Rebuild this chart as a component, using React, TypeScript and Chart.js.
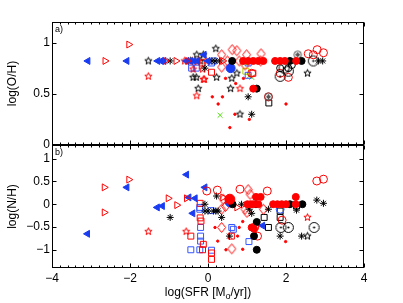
import React, { useEffect, useRef } from 'react';
import { Chart, registerables } from 'chart.js';
Chart.register(...registerables);

type P = [number, number];

// ---------- axes ----------
const xMajorTicks = [-4, -2, 0, 2, 4];
const xTickLabels = ['\u22124', '\u22122', '0', '2', '4'];
const ohTicks = [0, 0.5, 1];
const ohTickLabels = ['0', '0.5', '1'];
const nhTicks = [-1, -0.5, 0, 0.5, 1];
const nhTickLabels = ['\u22121', '\u22120.5', '0', '0.5', '1'];

// ---------- panel a) log(O/H) ----------
const ohBlueTri: P[] = [[-3.08, 0.82], [-2.08, 0.82], [-1.29, 0.82], [-1.2, 0.82], [-1.13, 0.82], [-0.55, 0.82], [-0.45, 0.82], [-0.36, 0.82], [-0.27, 0.82], [-0.1, 0.88], [0.0, 0.82]];
const ohRedTri: P[] = [[-2.64, 0.82], [-2.03, 0.98], [-1.09, 0.82], [-0.82, 0.82], [-0.52, 0.82], [0.38, 0.82]];
const ohBlackStar: P[] = [[-1.53, 0.82], [-0.29, 0.88], [-0.12, 0.88], [-0.38, 0.66], [-0.3, 0.66], [0.22, 0.66], [0.2, 0.94], [-0.25, 0.55], [0.61, 0.65], [0.74, 0.7], [0.58, 0.55], [0.82, 0.3], [2.55, 0.7], [-0.45, 0.82], [-0.2, 0.82]];
const ohRedStar: P[] = [[-1.53, 0.67], [-0.38, 0.74], [-0.14, 0.74], [-0.12, 0.64], [-0.29, 0.48], [-0.09, 0.64], [0.82, 0.55], [-0.6, 0.82], [-0.4, 0.82], [-0.25, 0.82], [-0.05, 0.82]];
const ohBlackAst: P[] = [[-0.97, 0.82], [-0.08, 0.75], [1.03, 0.47], [1.12, 0.3], [2.83, 0.82], [2.94, 0.82], [-0.5, 0.82], [0.1, 0.82], [0.3, 0.82], [0.18, 0.82]];
const ohBlueSq: P[] = [[-0.42, 0.75], [-0.3, 0.75], [0.09, 0.8], [1.03, 0.8], [1.03, 0.68], [0.15, 0.82]];
const ohRedSq: P[] = [[0.09, 0.71], [-0.15, 0.8], [1.15, 0.7]];
const ohBlackSq: P[] = [[1.56, 0.41]];
const ohGreenSq: P[] = [[0.97, 0.72]];
const ohRedDiam: P[] = [[0.35, 0.88], [0.62, 0.93], [0.74, 0.92], [0.99, 0.88], [1.36, 0.89], [0.35, 0.76], [0.5, 0.82], [0.8, 0.82], [0.95, 0.78], [1.35, 0.82]];
const ohRedDot: P[] = [[0.9, 0.82], [1.03, 0.82], [1.16, 0.82], [1.29, 0.82], [1.42, 0.82], [1.72, 0.82], [1.85, 0.82], [1.97, 0.82], [2.26, 0.82], [1.16, 0.55]];
const ohBlackDot: P[] = [[0.62, 0.82], [2.1, 0.82], [2.4, 0.82], [1.25, 0.55]];
const ohBlueDot: P[] = [[0.58, 0.75]];
const ohRedCirc: P[] = [[1.12, 0.7], [2.57, 0.89], [2.7, 0.88], [2.8, 0.93], [2.96, 0.9], [2.06, 0.66], [1.85, 0.7], [1.55, 0.47]];
const ohBlackCirc: P[] = [[1.85, 0.75], [2.06, 0.75], [2.15, 0.78]];
const ohBlackCircDot: P[] = [[2.7, 0.82], [1.85, 0.67], [1.95, 0.75], [2.06, 0.72]];
const ohGreenX: P[] = [[0.86, 0.81], [1.05, 0.67], [0.31, 0.29], [0.95, 0.8], [1.12, 0.66]];
const ohRedSmall: P[] = [[0.45, 0.65], [0.91, 0.65], [0.11, 0.47], [0.37, 0.47], [0.26, 0.4], [0.71, 0.6], [0.69, 0.3], [0.56, 0.17], [1.06, 0.25], [2.0, 0.4]];
const ohGrayCircAst: P[] = [[2.3, 0.88], [1.55, 0.47]];

// ---------- panel b) log(N/H) ----------
const nhBlueTri: P[] = [[-3.09, -0.65], [-2.08, 0.37], [-1.3, -0.07], [-1.17, -0.04], [-0.55, 0.65], [-0.49, 0.15], [-0.33, 0.13], [-0.39, -0.2], [-0.08, 0.37], [1.4, -0.47]];
const nhRedTri: P[] = [[-2.66, 0.37], [-2.66, -0.18], [-2.03, 0.54], [-1.02, 0.13], [-0.8, -0.02], [-0.55, 0.13], [0.38, 0.15], [0.74, -0.07]];
const nhBlackStar: P[] = [[2.55, -0.7]];
const nhRedStar: P[] = [[-1.53, -0.6], [-0.56, -0.6], [2.55, -0.29]];
const nhBlackAst: P[] = [[-0.97, -0.29], [0.22, 0.18], [-0.08, 0.0], [-0.08, -0.15], [0.0, -0.15], [0.14, -0.15], [0.2, -0.15], [0.26, -0.15], [0.35, -0.29], [0.55, -0.7], [0.86, 0.0], [1.06, -0.11], [1.12, -0.2], [1.55, -0.11], [2.27, -0.13], [2.27, 0.0], [1.85, -0.7], [2.4, -0.7], [2.79, 0.09], [2.96, 0.02]];
const nhBlueSq: P[] = [[-0.21, -0.07], [-0.19, -0.51], [-0.19, -0.7], [-0.19, -0.81], [-0.44, -1.0], [-0.21, -1.0], [0.09, -1.01], [0.08, -0.14], [0.61, -0.51], [0.65, -0.55], [1.05, -0.82], [-0.21, -0.11]];
const nhRedSq: P[] = [[-0.18, -0.37], [-0.44, -0.7], [-0.12, -0.88], [0.09, -1.07], [0.09, -1.21], [-0.14, -1.0], [-0.2, -0.3], [0.6, -0.7], [-0.2, 0.02]];
const nhBlackSq: P[] = [[1.44, -0.29], [1.55, -0.51], [1.85, -0.15], [1.85, -0.29], [2.27, -0.04]];
const nhRedDiam: P[] = [[0.39, 0.11], [0.35, -0.11], [0.35, -0.51], [0.61, -0.98], [1.03, 0.32], [1.08, 0.22], [0.95, -0.11], [1.0, -0.18], [1.42, -0.11], [0.45, -0.05]];
const nhRedDot: P[] = [[1.23, 0.16], [1.35, 0.16], [2.25, 0.16], [1.01, 0.0], [1.09, 0.0], [1.16, 0.0], [1.29, 0.0], [1.67, 0.0], [1.78, 0.0], [1.89, 0.0], [2.0, 0.0], [2.25, 0.0], [1.12, -0.51], [1.18, -0.54]];
const nhRedDotBig: P[] = [[0.56, 0.11]];
const nhBlackDot: P[] = [[0.63, 0.0], [1.23, 0.0], [2.1, 0.0], [2.42, 0.0], [1.25, -0.39], [1.18, -0.7], [1.25, -1.0]];
const nhBlueDot: P[] = [[0.56, 0.04]];
const nhRedCirc: P[] = [[-0.03, 0.29], [0.24, 0.31], [0.82, 0.33], [1.52, 0.29], [2.79, 0.51], [2.96, 0.55], [1.9, -0.35], [1.27, -0.7], [1.2, -0.5]];
const nhBlueCirc: P[] = [[1.85, -0.11]];
const nhBlackCircDot: P[] = [[1.87, -0.51], [2.06, -0.51], [2.72, -0.51]];
const nhRedSmall: P[] = [[0.18, -0.51], [0.25, -0.81], [0.46, -1.0], [0.76, -0.7], [0.89, -0.38], [0.89, -0.99], [1.99, -0.82], [0.8, -0.51]];

const FONT = "'Liberation Sans', Arial, sans-serif";
const RED = '#ff0000';
const BLUE = '#1a3cf0';
const BLUE_SQ = '#3355ff';
const GREEN = '#55dd11';

function makeCanvas(w: number, h: number = w) {
  const c = document.createElement('canvas');
  c.width = w; c.height = h;
  return c;
}
function makeStar(color: string, R: number) {
  const s = Math.ceil(R * 2 + 3);
  const c = makeCanvas(s);
  const g = c.getContext('2d')!;
  g.strokeStyle = color; g.lineWidth = 1;
  g.beginPath();
  for (let k = 0; k < 10; k++) {
    const r = k % 2 === 0 ? R : R * 0.42;
    const a = -Math.PI / 2 + (k * Math.PI) / 5;
    const px = s / 2 + r * Math.cos(a), py = s / 2 + r * Math.sin(a);
    if (k === 0) g.moveTo(px, py); else g.lineTo(px, py);
  }
  g.closePath(); g.stroke();
  return c;
}
function makeDiamond(color: string, hw: number, hh: number) {
  const w = Math.ceil(hw * 2 + 3), h = Math.ceil(hh * 2 + 3);
  const c = makeCanvas(w, h);
  const g = c.getContext('2d')!;
  g.strokeStyle = color; g.lineWidth = 1;
  g.beginPath();
  g.moveTo(w / 2, h / 2 - hh);
  g.lineTo(w / 2 + hw, h / 2);
  g.lineTo(w / 2, h / 2 + hh);
  g.lineTo(w / 2 - hw, h / 2);
  g.closePath(); g.stroke();
  return c;
}
function makeCircDot(color: string, R: number) {
  const s = Math.ceil(R * 2 + 3);
  const c = makeCanvas(s);
  const g = c.getContext('2d')!;
  g.strokeStyle = color; g.fillStyle = color; g.lineWidth = 1;
  g.beginPath(); g.arc(s / 2, s / 2, R, 0, Math.PI * 2); g.stroke();
  g.beginPath(); g.arc(s / 2, s / 2, 1.1, 0, Math.PI * 2); g.fill();
  return c;
}
function makeCircAst(color: string, R: number) {
  const s = Math.ceil(R * 2 + 3);
  const c = makeCanvas(s);
  const g = c.getContext('2d')!;
  g.strokeStyle = color; g.lineWidth = 1;
  g.beginPath(); g.arc(s / 2, s / 2, R, 0, Math.PI * 2); g.stroke();
  const r = R * 0.7;
  g.beginPath();
  for (let k = 0; k < 4; k++) {
    const a = (k * Math.PI) / 4;
    g.moveTo(s / 2 - r * Math.cos(a), s / 2 - r * Math.sin(a));
    g.lineTo(s / 2 + r * Math.cos(a), s / 2 + r * Math.sin(a));
  }
  g.stroke();
  return c;
}

const framePlugin = {
  id: 'frame',
  afterDraw(chart: any, _args: any, opts: any) {
    const { ctx, chartArea: a } = chart;
    const xs = chart.scales.x, ys = chart.scales.y;
    ctx.save();
    ctx.strokeStyle = '#000';
    ctx.lineWidth = 1;
    const L = Math.round(a.left) + 0.5, R = Math.round(a.right) - 0.5;
    const T = Math.round(a.top) + 0.5, B = Math.round(a.bottom) - 0.5;
    ctx.beginPath();
    for (let i = -20; i <= 20; i++) {
      const v = i / 5;
      const px = Math.round(xs.getPixelForValue(v)) + 0.5;
      const len = i % 10 === 0 ? 4 : 2;
      ctx.moveTo(px, T); ctx.lineTo(px, T + len);
      ctx.moveTo(px, B); ctx.lineTo(px, B - len);
    }
    for (const v of opts.yTicks as number[]) {
      const py = Math.round(ys.getPixelForValue(v)) + 0.5;
      ctx.moveTo(L, py); ctx.lineTo(L + 4, py);
      ctx.moveTo(R, py); ctx.lineTo(R - 4, py);
    }
    ctx.stroke();
    ctx.strokeRect(L, T, R - L, B - T);
    ctx.fillStyle = '#000';
    ctx.font = `9px ${FONT}`;
    ctx.textAlign = 'left';
    ctx.textBaseline = 'top';
    ctx.fillText(opts.label, a.left + 3, a.top + 3);
    ctx.font = `12px ${FONT}`;
    ctx.textAlign = 'center';
    ctx.textBaseline = 'middle';
    ctx.save();
    ctx.translate(13, (a.top + a.bottom) / 2);
    ctx.rotate(-Math.PI / 2);
    ctx.fillText(opts.yTitle, 0, 0);
    ctx.restore();
    if (opts.xTitle) {
      const parts = ['log(SFR [M', 'o', '/yr])'];
      ctx.font = `12px ${FONT}`;
      const w0 = ctx.measureText(parts[0]).width;
      const w2 = ctx.measureText(parts[2]).width;
      ctx.font = `9px ${FONT}`;
      const w1 = ctx.measureText(parts[1]).width;
      const cx = (a.left + a.right) / 2;
      const y = a.bottom + opts.xTitleOffset;
      let x = cx - (w0 + w1 + w2) / 2;
      ctx.textAlign = 'left';
      ctx.textBaseline = 'alphabetic';
      ctx.font = `12px ${FONT}`;
      ctx.fillText(parts[0], x, y); x += w0;
      ctx.font = `9px ${FONT}`;
      ctx.fillText(parts[1], x, y + 3); x += w1;
      ctx.font = `12px ${FONT}`;
      ctx.fillText(parts[2], x, y);
    }
    ctx.restore();
  },
};

function toXY(d: P[]) {
  return d.map(([x, y]) => ({ x, y }));
}

function buildDatasets(panel: 'oh' | 'nh') {
  const star = (c: string) => makeStar(c, 3.8);
  const diam = makeDiamond(RED, 4, 5);
  const cd = makeCircDot('#000', 5);
  const ca = makeCircAst('#555', 3.8);
  const mk = (data: P[], pointStyle: any, radius: number, border: string, bg: string, rot = 0) => ({
    data: toXY(data),
    pointStyle,
    pointRadius: radius,
    pointRotation: rot,
    borderColor: border,
    backgroundColor: bg,
    borderWidth: 1,
    showLine: false,
  });
  const T = 'rgba(0,0,0,0)';
  let list: any[];
  if (panel === 'oh') {
    list = [
      mk(ohRedSmall, 'circle', 1.2, RED, RED),
      mk(ohGreenX, 'crossRot', 3.5, GREEN, GREEN),
      mk(ohGreenSq, 'rect', 4.2, '#b8d200', T),
      mk(ohBlueSq, 'rect', 4.2, BLUE_SQ, T),
      mk(ohRedSq, 'rect', 4.2, RED, T),
      mk(ohBlackSq, 'rect', 4.2, '#000', T),
      mk(ohRedDiam, diam, 5, RED, T),
      mk(ohBlackStar, star('#000'), 4, '#000', T),
      mk(ohRedStar, star(RED), 4, RED, T),
      mk(ohBlackAst, 'star', 3.5, '#000', T),
      mk(ohBlueTri, 'triangle', 4, BLUE, BLUE, -90),
      mk(ohRedTri, 'triangle', 4, RED, T, 90),
      mk(ohRedCirc, 'circle', 4, RED, T),
      mk(ohBlackCirc, 'circle', 3.5, '#000', T),
      mk(ohBlackCircDot, cd, 5, '#000', T),
      mk(ohGrayCircAst, ca, 4, '#555', T),
      mk(ohBlueDot, 'circle', 4.5, BLUE, BLUE),
      mk(ohBlackDot, 'circle', 3.5, '#000', '#000'),
      mk(ohRedDot, 'circle', 3.5, RED, RED),
    ];
  } else {
    list = [
      mk(nhRedSmall, 'circle', 1.2, RED, RED),
      mk(nhBlueSq, 'rect', 4.2, BLUE_SQ, T),
      mk(nhRedSq, 'rect', 4.2, RED, T),
      mk(nhBlackSq, 'rect', 4.2, '#000', T),
      mk(nhRedDiam, diam, 5, RED, T),
      mk(nhBlackStar, star('#000'), 4, '#000', T),
      mk(nhRedStar, star(RED), 4, RED, T),
      mk(nhBlackAst, 'star', 3.5, '#000', T),
      mk(nhBlueTri, 'triangle', 4, BLUE, BLUE, -90),
      mk(nhRedTri, 'triangle', 4, RED, T, 90),
      mk(nhRedCirc, 'circle', 4, RED, T),
      mk(nhBlueCirc, 'circle', 4, BLUE_SQ, T),
      mk(nhBlackCircDot, cd, 5, '#000', T),
      mk(nhBlueDot, 'circle', 4.5, BLUE, BLUE),
      mk(nhBlackDot, 'circle', 3.5, '#000', '#000'),
      mk(nhRedDot, 'circle', 3.5, RED, RED),
      mk(nhRedDotBig, 'circle', 5, RED, RED),
    ];
  }
  return list.reverse();
}

function makeConfig(panel: 'oh' | 'nh'): any {
  const isTop = panel === 'oh';
  const yTicks = isTop ? ohTicks : nhTicks;
  const yLabels = isTop ? ohTickLabels : nhTickLabels;
  return {
    type: 'scatter',
    data: { datasets: buildDatasets(panel) },
    plugins: [framePlugin],
    options: {
      animation: false,
      responsive: false,
      maintainAspectRatio: false,
      events: [],
      layout: { padding: isTop ? { left: 0, right: 39, top: 22, bottom: 10 } : { left: 0, right: 39, top: 15, bottom: 0 } },
      plugins: {
        legend: { display: false },
        tooltip: { enabled: false },
        frame: { label: isTop ? 'a)' : 'b)', yTitle: isTop ? 'log(O/H)' : 'log(N/H)', yTicks, xTitle: !isTop, xTitleOffset: 28 },
      },
      scales: {
        x: {
          type: 'linear',
          min: -4,
          max: 4,
          display: !isTop,
          grid: { display: false, drawTicks: false },
          border: { display: false },
          afterBuildTicks: (s: any) => { s.ticks = xMajorTicks.map((v) => ({ value: v })); },
          afterFit: (s: any) => { s.height = isTop ? 0 : 35; },
          ticks: {
            padding: 3,
            color: '#000',
            font: { family: FONT, size: 12 },
            maxRotation: 0,
            callback: (v: number) => xTickLabels[xMajorTicks.indexOf(v)],
          },
        },
        y: {
          type: 'linear',
          min: isTop ? 0 : -1.4,
          max: isTop ? 1.2 : 1.3,
          grid: { display: false, drawTicks: false },
          border: { display: false },
          afterBuildTicks: (s: any) => { s.ticks = yTicks.map((v) => ({ value: v })); },
          afterFit: (s: any) => { s.width = 52; },
          ticks: {
            padding: 2,
            color: '#000',
            font: { family: FONT, size: 12 },
            callback: (v: number) => yLabels[yTicks.indexOf(v)],
          },
        },
      },
    },
  };
}

export default function App() {
  const topRef = useRef<HTMLCanvasElement>(null);
  const botRef = useRef<HTMLCanvasElement>(null);
  useEffect(() => {
    const a = new Chart(topRef.current!, makeConfig('oh'));
    const b = new Chart(botRef.current!, makeConfig('nh'));
    return () => { a.destroy(); b.destroy(); };
  }, []);
  return (
    <div style={{ position: 'fixed', left: 0, top: 0, width: 403, height: 303, background: '#fff' }}>
      <canvas ref={topRef} width={403} height={155} style={{ position: 'absolute', left: 0, top: 0, width: 403, height: 155 }} />
      <canvas ref={botRef} width={403} height={173} style={{ position: 'absolute', left: 0, top: 130, width: 403, height: 173 }} />
    </div>
  );
}
